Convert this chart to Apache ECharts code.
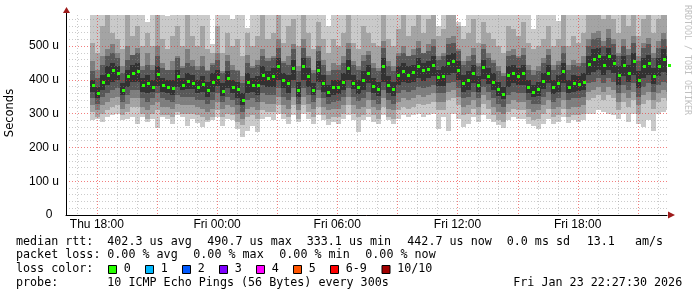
<!DOCTYPE html>
<html><head><meta charset="utf-8">
<script src="https://cdn.jsdelivr.net/npm/echarts@6/dist/echarts.min.js"></script>
<style>html,body{margin:0;padding:0;background:#fff}#c{width:697px;height:297px}</style>
</head><body><div id="c"></div><script>
// ---- time frame (hours since Thu 00:00) ----
const xStartHour = 16 + 27.5 / 60;   // Thu 16:27:30
const xEndHour = 46 + 27.5 / 60;     // Fri 22:27:30
const firstSampleHour = 17 + 40 / 60;
const stepHours = 0.25;

// ---- tick labels / grid positions ----
const tickHours = [18, 24, 30, 36, 42];
const tickLabels = ['Thu 18:00', 'Fri 00:00', 'Fri 06:00', 'Fri 12:00', 'Fri 18:00'];
const majorHours = [18, 21, 24, 27, 30, 33, 36, 39, 42, 45];
const minorHours = [17, 19, 20, 22, 23, 25, 26, 28, 29, 31, 32, 34, 35, 37, 38, 40, 41, 43, 44, 46];
const yMajor = [0, 100, 200, 300, 400, 500];
const yMinor = [20, 40, 60, 80, 120, 140, 160, 180, 220, 240, 260, 280, 320, 340, 360, 380, 420, 440, 460, 480, 520, 540, 560, 580];
const yMax = 592;

// ---- median rtt (us) ----
const median = [385,360,395,415,430,420,370,410,420,425,
385,390,380,418,385,380,375,410,385,398,
392,380,388,370,395,408,368,405,380,372,
340,395,385,385,415,405,410,440,400,390,
435,370,440,410,370,430,390,365,380,378,
395,435,392,378,400,420,382,372,440,385,
372,415,425,415,423,440,428,432,445,408,
412,450,455,430,390,400,420,385,438,412,
395,372,358,415,420,410,420,380,365,372,
398,420,378,390,425,380,390,388,395,448,
462,470,445,470,450,415,445,420,455,400,
440,450,412,440,462,445];

// ---- smoke bands (ping 5/6 innermost ... ping 1/10 outermost) ----
const band5Lo = [365,345,370,385,395,400,355,380,395,395,
365,360,365,383,365,360,355,380,370,373,
372,360,363,350,365,383,353,375,360,347,
325,360,365,355,385,380,380,400,375,360,
400,350,400,380,355,395,365,350,355,358,
370,400,372,358,370,390,362,352,395,360,
352,385,395,390,393,405,398,407,410,383,
382,415,420,400,365,370,390,365,403,387,
370,352,343,380,390,385,385,360,350,352,
373,390,358,365,390,360,365,368,370,413,
422,430,415,430,420,385,410,395,415,375,
405,415,387,410,422,415];
const band5Hi = [400,380,415,440,450,440,390,430,445,450,
405,415,400,440,405,400,400,430,405,420,
415,400,410,395,420,430,390,425,400,395,
360,420,405,410,440,425,435,465,420,415,
460,395,465,435,390,455,415,385,400,400,
420,460,415,400,425,445,405,395,465,410,
395,440,450,440,445,465,450,455,470,430,
440,475,480,455,415,425,445,410,460,435,
420,395,380,440,445,435,445,400,385,395,
420,445,400,415,450,400,415,410,420,470,
490,495,470,495,475,440,470,445,480,425,
465,475,435,465,490,470];
const band4Lo = [345,330,350,360,370,375,335,355,370,370,
345,335,345,360,345,340,335,355,350,350,
350,340,340,330,340,360,335,350,340,325,
305,340,345,335,360,355,355,375,350,340,
375,330,375,355,335,370,345,330,335,338,
350,375,350,338,345,365,340,330,370,340,
330,360,370,365,370,380,375,380,385,360,
360,390,395,375,345,350,365,345,380,365,
345,330,320,355,365,360,360,340,330,330,
350,365,335,345,365,340,345,345,348,390,
395,405,390,405,395,360,385,370,390,350,
380,390,365,385,395,390];
const band4Hi = [425,405,445,470,480,465,420,460,475,480,
430,445,430,470,435,430,430,465,435,450,
440,430,440,425,445,460,420,455,430,425,
390,450,435,445,470,455,465,495,450,445,
490,425,495,465,420,485,445,415,430,430,
450,490,445,430,455,475,435,425,495,440,
425,470,480,470,475,495,480,485,500,460,
470,505,510,485,445,455,475,440,490,465,
450,425,410,470,475,465,475,430,415,425,
450,475,430,445,480,430,445,440,450,500,
520,525,500,525,505,470,500,475,510,455,
495,505,465,495,520,500];
const band3Lo = [325,310,325,335,345,350,315,330,345,345,
320,310,325,335,320,320,315,330,325,325,
325,320,315,305,315,335,315,325,320,300,
285,315,320,310,335,330,330,350,325,315,
350,310,350,330,315,345,320,310,315,315,
325,350,325,315,320,340,320,310,345,315,
310,335,345,340,345,355,350,355,360,335,
335,365,370,350,320,325,340,320,355,340,
320,305,300,330,340,335,335,315,305,310,
325,340,315,320,340,315,320,320,325,365,
370,380,365,380,370,335,360,345,365,325,
355,365,340,360,370,365];
const band3Hi = [455,430,470,490,505,480,440,500,470,495,
440,480,445,500,450,430,455,470,440,490,
460,440,470,430,450,480,425,475,445,430,
410,475,440,460,490,465,470,520,455,470,
505,440,520,470,430,500,460,425,450,445,
470,510,455,440,475,485,450,435,515,455,
440,480,500,470,490,515,480,505,520,470,
480,525,530,490,455,470,495,450,505,480,
460,440,420,485,490,470,495,445,430,440,
465,490,445,455,500,445,460,450,470,520,
540,545,515,550,520,480,520,490,530,470,
510,525,480,515,540,520];
const band2Lo = [305,290,300,310,320,325,295,305,320,320,
300,285,300,310,295,295,290,305,300,300,
300,295,290,280,290,310,290,300,295,275,
265,290,295,285,310,305,305,325,300,290,
325,285,325,305,290,320,295,285,290,290,
300,325,300,290,295,315,295,285,320,290,
285,310,320,315,320,330,325,330,335,310,
310,340,345,325,295,300,315,295,330,315,
295,280,275,305,315,310,310,290,280,285,
300,315,290,295,315,290,295,295,300,340,
345,355,340,355,345,310,335,320,340,300,
330,340,315,335,345,340];
const band2Hi = [510,480,560,600,540,520,490,600,530,560,
500,540,500,610,520,490,530,560,500,600,
530,500,560,490,480,560,480,540,500,520,
470,540,500,530,600,520,540,610,510,560,
580,500,610,540,490,570,520,480,520,500,
540,600,510,490,560,540,510,500,600,520,
500,550,600,530,560,610,540,580,600,530,
550,600,610,560,520,540,580,510,570,540,
520,500,480,560,550,530,570,510,490,500,
520,560,500,520,600,500,530,510,540,600,
610,620,580,620,580,540,600,560,610,530,
580,600,540,580,620,600];
const band1Lo = [280,285,275,290,295,300,280,285,290,270,
290,275,285,258,290,285,268,295,290,262,
285,272,260,275,280,290,262,285,280,255,
232,250,262,245,285,290,280,300,285,270,
295,275,300,285,270,295,280,265,275,270,
285,295,280,245,280,290,275,270,295,280,
268,285,295,290,295,300,290,295,298,255,
290,248,300,285,260,270,290,275,295,285,
275,265,258,280,290,285,285,270,262,255,
270,285,268,275,290,272,280,275,280,300,
300,310,305,300,295,285,300,275,300,270,
260,280,250,300,305,310];
const band1Hi = [650,620,650,650,600,650,650,580,650,650,
650,570,650,650,650,590,650,650,620,650,
650,610,650,600,505,650,650,650,580,650,
650,555,650,650,620,600,650,650,650,610,
650,650,650,610,650,650,650,560,650,650,
650,650,620,650,650,650,650,650,570,650,
650,650,650,650,650,650,650,650,650,560,
650,650,650,570,560,650,650,650,650,650,
650,650,650,600,650,650,650,620,550,650,
650,650,610,575,650,650,650,650,650,650,
650,650,600,650,650,650,650,650,650,650,
650,620,650,650,650,650];

// ---- texts ----
const rttLabel = 'median rtt:';
const rttStats = ['402.3 us avg', '490.7 us max', '333.1 us min', '442.7 us now', '0.0 ms sd', '13.1', 'am/s'];
const lossLabel = 'packet loss:';
const lossStats = ['0.00 % avg', '0.00 % max', '0.00 % min', '0.00 % now'];
const lossColorLabel = 'loss color:';
const lossLegend = ['0', '1', '2', '3', '4', '5', '6-9', '10/10'];
const lossColors = ['#26ff00', '#00b8ff', '#0059ff', '#7e00ff', '#ff00ff', '#ff5500', '#ff0000', '#a10000'];
const probeLabel = 'probe:';
const probeText = '10 ICMP Echo Pings (56 Bytes) every 300s';
const dateText = 'Fri Jan 23 22:27:30 2026';
const yAxisTitle = 'Seconds';
const watermark = 'RRDTOOL / TOBI OETIKER';

// ---- layout (pixels) ----
const rttX = [107.3, 207.3, 306.7, 407.3, 506.7, 586.7, 635];
const lossX = [107.3, 193.3, 279.3, 365.3];
const legendBoxX = [108, 145, 182, 219, 256, 293, 330, 381.5];
const lineY = [241.5, 255.2, 269, 282.8];
const monoFont = '"DejaVu Sans Mono", monospace';
const statFont = '11.7px ' + monoFont;
const gridBox = { left: 66, right: 30, top: 15, bottom: 82 };

const times = median.map((_, i) => firstSampleHour + stepHours * i);
const bandColors = ['#cacaca', '#a4a4a4', '#7e7e7e', '#585858', '#323232'];
const bands = [[band1Lo, band1Hi], [band2Lo, band2Hi], [band3Lo, band3Hi], [band4Lo, band4Hi], [band5Lo, band5Hi]];

function bandRender(color) {
  return function (params, api) {
    const cs = params.coordSys;
    const t = api.value(0), lo = api.value(1), hi = api.value(2);
    const a = api.coord([t, hi]), b = api.coord([t + stepHours, lo]);
    let x0 = Math.round(a[0]), x1 = Math.round(b[0]);
    let y0 = Math.round(a[1]), y1 = Math.round(b[1]);
    x0 = Math.max(x0, Math.round(cs.x));
    x1 = Math.min(x1, Math.round(cs.x + cs.width));
    y0 = Math.max(y0, Math.round(cs.y));
    y1 = Math.min(y1, Math.round(cs.y + cs.height));
    if (x1 <= x0 || y1 <= y0) return null;
    return { type: 'rect', shape: { x: x0, y: y0, width: x1 - x0, height: y1 - y0 }, style: { fill: color } };
  };
}

const minorColor = 'rgba(140,140,140,0.45)';
const majorColor = 'rgba(235,40,40,0.6)';

const series = bands.map((bd, j) => ({
  type: 'custom', z: 1, silent: true, xAxisIndex: 0, yAxisIndex: 0,
  renderItem: bandRender(bandColors[j]),
  encode: { x: 0, y: [1, 2] },
  data: times.map((t, i) => [t, bd[0][i], bd[1][i]])
}));
series.push({
  type: 'custom', z: 6, silent: true, xAxisIndex: 0, yAxisIndex: 0,
  renderItem: function (params, api) {
    const p = api.coord([api.value(0) + stepHours / 2, api.value(1)]);
    return { type: 'rect', shape: { x: Math.round(p[0]) - 1, y: Math.round(p[1]) - 1, width: 3, height: 3 }, style: { fill: lossColors[0] } };
  },
  encode: { x: 0, y: 1 },
  data: times.map((t, i) => [t, median[i]])
});

const minorGrid = { show: true, lineStyle: { color: minorColor, width: 1, type: [1, 2] } };
const majorGrid = { show: true, lineStyle: { color: majorColor, width: 1, type: [1, 2] } };

const graphic = [];
function txt(x, y, s, extra) {
  graphic.push(Object.assign({ type: 'text', x: x, y: y, silent: true,
    style: { text: s, font: statFont, fill: '#000', verticalAlign: 'middle', align: 'left' } }, extra || {}));
}
txt(16, lineY[0], rttLabel);
rttStats.forEach((s, i) => txt(rttX[i], lineY[0], s));
txt(16, lineY[1], lossLabel);
lossStats.forEach((s, i) => txt(lossX[i], lineY[1], s));
txt(16, lineY[2], lossColorLabel);
lossLegend.forEach((s, i) => {
  graphic.push({ type: 'rect', silent: true, shape: { x: legendBoxX[i] + 0.5, y: 265.5, width: 8, height: 8 },
    style: { fill: lossColors[i], stroke: '#000', lineWidth: 1 } });
  txt(legendBoxX[i] + 15.7, lineY[2], s);
});
txt(16, lineY[3], probeLabel);
txt(107.3, lineY[3], probeText);
txt(513.3, lineY[3], dateText);
graphic.push({ type: 'text', x: 10, y: 113, rotation: Math.PI / 2, silent: true,
  style: { text: yAxisTitle, font: '11.5px "DejaVu Sans", sans-serif', fill: '#000', align: 'center', verticalAlign: 'middle' } });
graphic.push({ type: 'text', x: 687, y: 60, rotation: -Math.PI / 2, silent: true,
  style: { text: watermark, font: '8.3px ' + monoFont, fill: '#c0c0c0', align: 'center', verticalAlign: 'middle' } });
// axis arrows
graphic.push({ type: 'line', silent: true, shape: { x1: 66.5, y1: 16, x2: 66.5, y2: 11 }, style: { stroke: '#000', lineWidth: 1 } });
graphic.push({ type: 'polygon', silent: true, shape: { points: [[63, 13], [70, 13], [66.5, 7]] }, style: { fill: '#9e1b1b' } });
graphic.push({ type: 'polygon', silent: true, shape: { points: [[668, 211.5], [668, 218.5], [675, 215]] }, style: { fill: '#9e1b1b' } });

const option = {
  animation: false,
  backgroundColor: '#fff',
  grid: Object.assign({ containLabel: false }, gridBox),
  xAxis: [
    { type: 'value', min: xStartHour, max: xEndHour, z: 3,
      axisLine: { show: true, onZero: false, lineStyle: { color: '#000', width: 1 } },
      axisTick: { show: false, customValues: tickHours },
      axisLabel: { show: true, customValues: tickHours, margin: 4, font: '9.8px ' + monoFont, color: '#000',
        formatter: function (v) { const i = tickHours.indexOf(Math.round(v)); return i >= 0 ? tickLabels[i] : ''; } },
      splitLine: { show: false } }
  ],
  yAxis: [
    { type: 'value', min: 0, max: yMax, z: 3,
      axisLine: { show: true, onZero: false, lineStyle: { color: '#000', width: 1 } },
      axisTick: { show: false, customValues: yMajor },
      axisLabel: { show: true, customValues: yMajor, margin: 7, font: '9.8px ' + monoFont, color: '#000',
        formatter: function (v) { return v === 0 ? '0  ' : v + ' u'; } },
      splitLine: majorGrid },
    { type: 'value', min: 0, max: yMax, z: 3, position: 'left',
      axisLine: { show: false }, axisTick: { show: false, customValues: yMinor },
      axisLabel: { show: false }, splitLine: minorGrid }
  ],
  series: series,
  graphic: graphic
};
const chart = echarts.init(document.getElementById('c'), null, { renderer: 'canvas', width: 697, height: 297 });
chart.setOption(option);

// vertical grid lines, positioned through the x axis scale
const gTop = gridBox.top, gBottom = 297 - gridBox.bottom;
const vLines = [];
function vLine(h, color) {
  const px = chart.convertToPixel({ xAxisIndex: 0 }, h);
  const x = Math.round(px) + 0.5;
  vLines.push({ type: 'line', silent: true, z: 50, shape: { x1: x, y1: gTop, x2: x, y2: gBottom },
    style: { stroke: color, lineWidth: 1, lineDash: [1, 2] } });
}
minorHours.forEach(h => vLine(h, minorColor));
majorHours.forEach(h => vLine(h, majorColor));
chart.setOption({ graphic: graphic.concat(vLines) });
// keep median marks above the grid
chart.setOption({ series: [{}, {}, {}, {}, {}, { z: 60 }] });
</script></body></html>
